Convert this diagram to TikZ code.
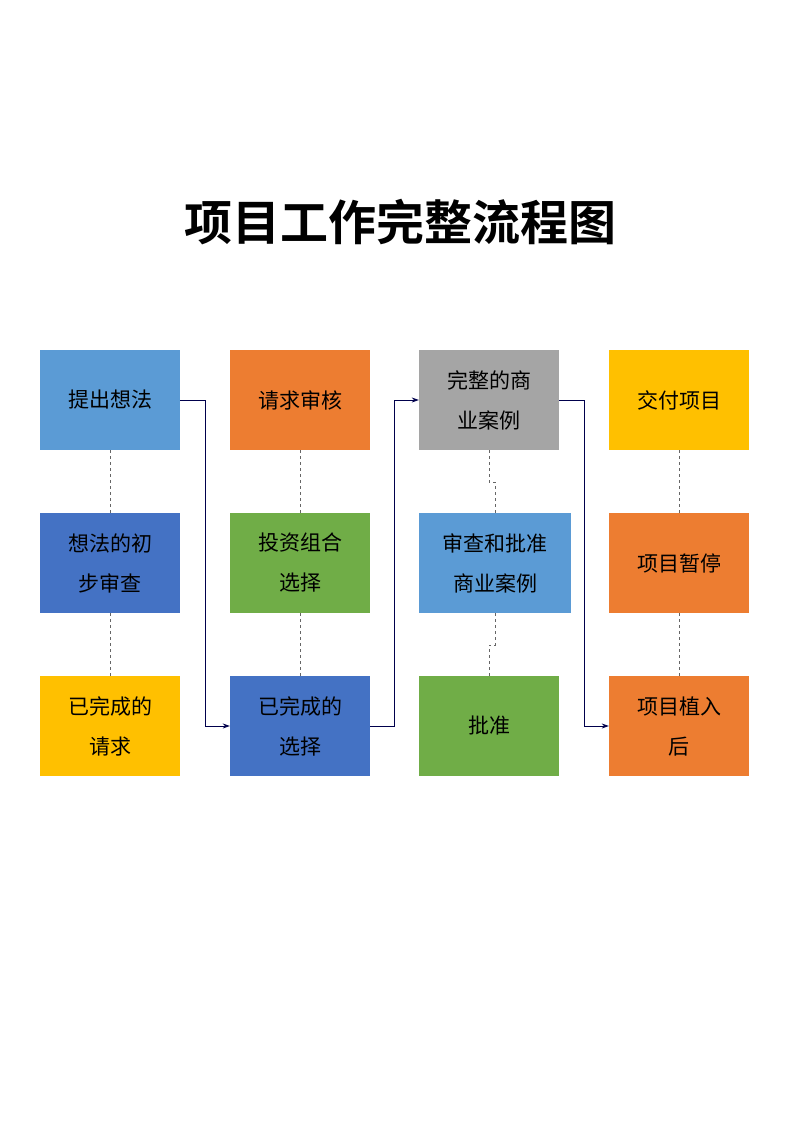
\documentclass[tikz,border=0pt]{standalone}
\usepackage{fontspec}
\setmainfont{Noto Sans CJK SC}
\newfontfamily\cjkb{Noto Sans CJK SC Bold}
\usetikzlibrary{arrows.meta}
\definecolor{lblue}{HTML}{5B9BD5}
\definecolor{orng}{HTML}{ED7D31}
\definecolor{gry}{HTML}{A5A5A5}
\definecolor{yel}{HTML}{FFC000}
\definecolor{dblue}{HTML}{4472C4}
\definecolor{grn}{HTML}{70AD47}
\tikzset{
 box/.style={minimum width=140pt,minimum height=100pt,inner sep=0pt,align=center,font=\fontsize{21pt}{40pt}\selectfont,text=black},
 dl/.style={draw=gray!80!black,dashed,line width=0.8pt},
 ar/.style={draw=black!70!blue,line width=0.8pt,-{Stealth[length=7pt,width=5pt]}}
}
\begin{document}
\begin{tikzpicture}[x=1pt,y=-1pt]
\useasboundingbox (0,0) rectangle (800,1131);
\node[font=\cjkb\fontsize{48pt}{56pt}\selectfont] (title) at (400,222) {项目工作完整流程图};
\node[box,fill=lblue] (a1) at (110,400) {提出想法};
\node[box,fill=dblue] (a2) at (110,563) {想法的初\\步审查};
\node[box,fill=yel] (a3) at (110,726) {已完成的\\请求};
\node[box,fill=orng] (b1) at (300,400) {请求审核};
\node[box,fill=grn] (b2) at (300,563) {投资组合\\选择};
\node[box,fill=dblue] (b3) at (300,726) {已完成的\\选择};
\node[box,fill=gry] (c1) at (489,400) {完整的商\\业案例};
\node[box,fill=lblue,minimum width=152pt] (c2) at (495,563) {审查和批准\\商业案例};
\node[box,fill=grn] (c3) at (489,726) {批准};
\node[box,fill=yel] (d1) at (679,400) {交付项目};
\node[box,fill=orng] (d2) at (679,563) {项目暂停};
\node[box,fill=orng] (d3) at (679,726) {项目植入\\后};
\draw[dl] (a1) -- (a2); \draw[dl] (a2) -- (a3);
\draw[dl] (b1) -- (b2); \draw[dl] (b2) -- (b3);
\draw[dl] (d1) -- (d2); \draw[dl] (d2) -- (d3);
\draw[dl] (c1.south) -- ++(0,32) -| (c2.north);
\draw[dl] (c2.south) -- ++(0,32) -| (c3.north);
\draw[ar] (a1.east) -- ++(25,0) |- (b3.west);
\draw[ar] (b3.east) -- ++(24,0) |- (c1.west);
\draw[ar] (c1.east) -- ++(25,0) |- (d3.west);
\end{tikzpicture}
\end{document}
